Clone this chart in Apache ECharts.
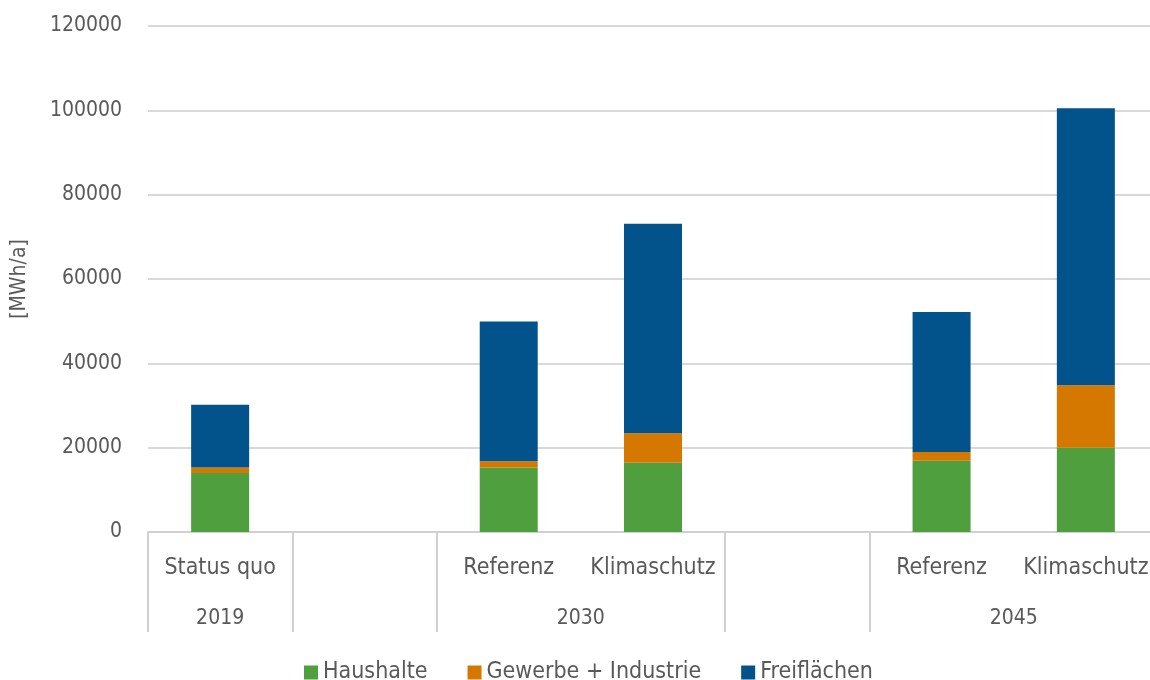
<!DOCTYPE html>
<html>
<head>
<meta charset="utf-8">
<script src="https://cdn.jsdelivr.net/npm/echarts@6/dist/echarts.min.js"></script>
<style>
html,body{margin:0;padding:0;background:#fff;}
#chart{width:1150px;height:680px;}
</style>
</head>
<body>
<div id="chart"></div>
<script>
const categories = ['Status quo', '', 'Referenz', 'Klimaschutz', '', 'Referenz', 'Klimaschutz'];
const groupLabels = [{ at: 0.5, text: '2019' }, { at: 3, text: '2030' }, { at: 6, text: '2045' }];
const groupBoundaries = [0, 1, 2, 4, 5];
const haushalte = [14000, null, 15300, 16400, null, 16900, 20000];
const gewerbe = [1300, null, 1500, 7000, null, 2100, 14800];
const freiflaechen = [14900, null, 33100, 49700, null, 33200, 65700];
const yTicks = { min: 0, max: 120000, interval: 20000 };

const FONT = '"DejaVu Sans Condensed", "DejaVu Sans", sans-serif';
const TXT = '#595959';
const FS = 23;

const chart = echarts.init(document.getElementById('chart'));
chart.setOption({
  animation: false,
  textStyle: { fontFamily: FONT },
  grid: { left: 148, width: 1010, top: 26, bottom: 148, containLabel: false, outerBoundsMode: 'none' },
  legend: {
    top: 656, left: 299,
    icon: 'rect', itemWidth: 14, itemHeight: 14, itemGap: 40,
    textStyle: { fontFamily: FONT, fontSize: FS, color: TXT },
    data: ['Haushalte', 'Gewerbe + Industrie', 'Freiflächen']
  },
  xAxis: [
    {
      type: 'category', data: categories, position: 'bottom',
      axisLine: { show: true, lineStyle: { color: '#d0d0d0', width: 2 } },
      axisTick: {
        show: true, length: 100, inside: false,
        interval: function (idx) { return groupBoundaries.indexOf(idx) >= 0; },
        lineStyle: { color: '#d0d0d0', width: 2 }
      },
      axisLabel: { interval: 0, margin: 25, fontSize: FS, color: TXT, fontFamily: FONT }
    },
    {
      type: 'value', min: 0, max: 7, interval: 0.5, position: 'bottom',
      axisLine: { show: false }, axisTick: { show: false }, splitLine: { show: false },
      axisLabel: {
        margin: 76, fontSize: 21, color: TXT, fontFamily: FONT, showMinLabel: true, showMaxLabel: true,
        formatter: function (v) {
          for (const g of groupLabels) if (Math.abs(g.at - v) < 1e-6) return g.text;
          return '';
        }
      }
    }
  ],
  yAxis: {
    type: 'value', min: yTicks.min, max: yTicks.max, interval: yTicks.interval,
    name: '[MWh/a]', nameLocation: 'middle', nameGap: 118, nameRotate: 90,
    nameTextStyle: { fontSize: 21, color: TXT, fontFamily: FONT },
    axisLine: { show: false }, axisTick: { show: false },
    axisLabel: { margin: 26, fontSize: 21, color: TXT, fontFamily: FONT, formatter: function (v) { return String(v); } },
    splitLine: { lineStyle: { color: '#d9d9d9', width: 2 } }
  },
  series: [
    { name: 'Haushalte', type: 'bar', stack: 's', barWidth: 58, data: haushalte, itemStyle: { color: '#4F9F3E' } },
    { name: 'Gewerbe + Industrie', type: 'bar', stack: 's', barWidth: 58, data: gewerbe, itemStyle: { color: '#D57800' } },
    { name: 'Freiflächen', type: 'bar', stack: 's', barWidth: 58, data: freiflaechen, itemStyle: { color: '#02528C' } }
  ]
});
</script>
</body>
</html>
